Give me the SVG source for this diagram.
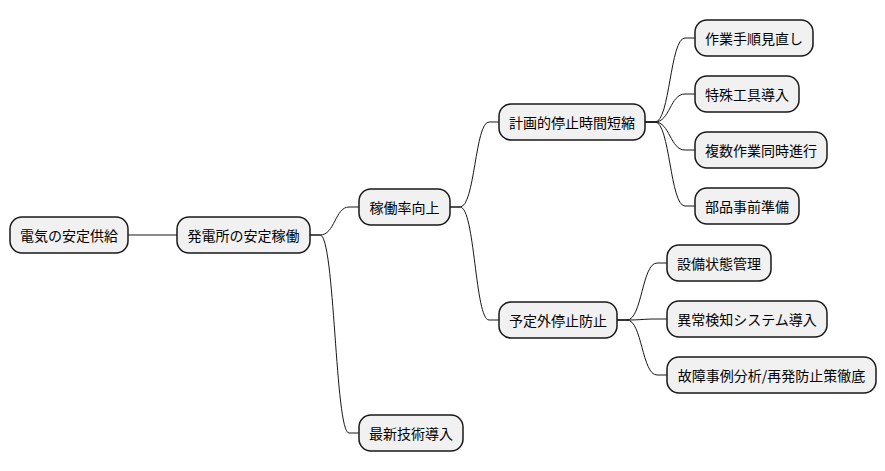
<svg xmlns="http://www.w3.org/2000/svg" width="885" height="471" viewBox="0 0 885 471">
<style>
rect{fill:#f1f1f1;stroke:#181818;stroke-width:1.5}
text{font-family:"Noto Sans CJK JP","Liberation Sans",sans-serif;font-size:14px;fill:#000;dominant-baseline:central}
path{fill:none;stroke:#181818;stroke-width:1}
</style>
<rect width="885" height="471" style="fill:#fff;stroke:none"/>
<g id="connectors">
<path d="M128,235 L177,235"/>
<path d="M310,235 L320,235 C335,235 335,207 349,207 L359,207"/>
<path d="M310,235 L320,235 C335,235 335,433 349,433 L359,433"/>
<path d="M450,207 L460,207 C475,207 475,122 489,122 L499,122"/>
<path d="M450,207 L460,207 C475,207 475,320 489,320 L499,320"/>
<path d="M645,122 L655,122 C670,122 670,38 685,38 L695,38"/>
<path d="M645,122 L655,122 C670,122 670,94 685,94 L695,94"/>
<path d="M645,122 L655,122 C670,122 670,150 685,150 L695,150"/>
<path d="M645,122 L655,122 C670,122 670,206 685,206 L695,206"/>
<path d="M617,320 L627,320 C642,320 642,263 657,263 L667,263"/>
<path d="M617,320 L627,320 C642,320 642,319 657,319 L667,319"/>
<path d="M617,320 L627,320 C642,320 642,375 657,375 L667,375"/>
</g>
<g id="n1"><rect x="10" y="217" width="118" height="36" rx="12"/><text x="69" y="235" text-anchor="middle">電気の安定供給</text></g>
<g id="n2"><rect x="177" y="217" width="133" height="36" rx="12"/><text x="243.5" y="235" text-anchor="middle">発電所の安定稼働</text></g>
<g id="n3"><rect x="359" y="189" width="91" height="36" rx="12"/><text x="404.5" y="207" text-anchor="middle">稼働率向上</text></g>
<g id="n4"><rect x="499" y="104" width="146" height="36" rx="12"/><text x="572" y="122" text-anchor="middle">計画的停止時間短縮</text></g>
<g id="n5"><rect x="695" y="20" width="118" height="36" rx="12"/><text x="754" y="38" text-anchor="middle">作業手順見直し</text></g>
<g id="n6"><rect x="695" y="76" width="104" height="36" rx="12"/><text x="747" y="94" text-anchor="middle">特殊工具導入</text></g>
<g id="n7"><rect x="695" y="132" width="132" height="36" rx="12"/><text x="761" y="150" text-anchor="middle">複数作業同時進行</text></g>
<g id="n8"><rect x="695" y="188" width="104" height="36" rx="12"/><text x="747" y="206" text-anchor="middle">部品事前準備</text></g>
<g id="n9"><rect x="499" y="302" width="118" height="36" rx="12"/><text x="558" y="320" text-anchor="middle">予定外停止防止</text></g>
<g id="n10"><rect x="667" y="245" width="104" height="36" rx="12"/><text x="719" y="263" text-anchor="middle">設備状態管理</text></g>
<g id="n11"><rect x="667" y="301" width="160" height="36" rx="12"/><text x="747" y="319" text-anchor="middle">異常検知システム導入</text></g>
<g id="n12"><rect x="667" y="357" width="209" height="36" rx="12"/><text x="771.5" y="375" text-anchor="middle">故障事例分析/再発防止策徹底</text></g>
<g id="n13"><rect x="359" y="415" width="104" height="36" rx="12"/><text x="411" y="433" text-anchor="middle">最新技術導入</text></g>
</svg>
